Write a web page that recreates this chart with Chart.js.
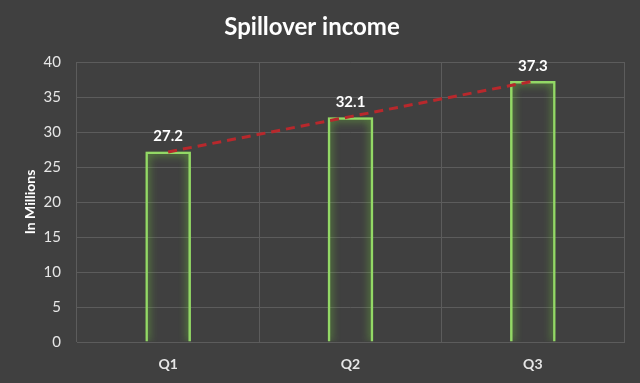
<!DOCTYPE html>
<html>
<head>
<meta charset="utf-8">
<script src="https://cdn.jsdelivr.net/npm/chart.js@4/dist/chart.umd.min.js"></script>
<style>
html,body{margin:0;padding:0;background:#404040;}
#wrap{width:640px;height:383px;}
</style>
</head>
<body>
<div id="wrap"><canvas id="c" width="640" height="383"></canvas></div>
<script>
const categories = ["Q1", "Q2", "Q3"];
const incomeValues = [27.2, 32.1, 37.3];
const trendValues = [27.15, 32.2, 37.25];
const yTicks = [0, 5, 10, 15, 20, 25, 30, 35, 40];

const FONT = "Lato, 'Open Sans', sans-serif";

const glowPlugin = {
  id: 'glow',
  beforeDatasetDraw(chart, args) {
    const ctx = chart.ctx;
    ctx.save();
    if (args.index === 0) {
      ctx.shadowColor = 'rgba(120,215,60,1)';
      ctx.shadowBlur = 8;
    }
  },
  afterDatasetDraw(chart) {
    chart.ctx.restore();
  }
};

const labelPlugin = {
  id: 'barLabels',
  afterDatasetsDraw(chart) {
    const ctx = chart.ctx;
    const meta = chart.getDatasetMeta(0);
    ctx.save();
    ctx.fillStyle = '#ffffff';
    ctx.font = "bold 15px " + FONT;
    ctx.textAlign = 'center';
    ctx.textBaseline = 'middle';
    meta.data.forEach((bar, i) => {
      ctx.fillText(incomeValues[i].toFixed(1), bar.x, bar.y - 15);
    });
    ctx.restore();
  }
};

new Chart(document.getElementById('c'), {
  type: 'bar',
  data: {
    labels: categories,
    datasets: [
      {
        type: 'bar',
        data: incomeValues,
        backgroundColor: 'rgba(0,0,0,0)',
        borderColor: '#93d866',
        borderWidth: 2.5,
        barPercentage: 0.5,
        categoryPercentage: 0.5,
        order: 2
      },
      {
        type: 'line',
        data: trendValues,
        borderColor: '#b8282c',
        borderWidth: 3,
        borderDash: [9, 6],
        pointRadius: 0,
        fill: false,
        tension: 0,
        order: 1
      }
    ]
  },
  options: {
    responsive: false,
    animation: false,
    layout: { padding: { left: 0, right: 16, top: 0, bottom: 0 } },
    plugins: {
      legend: { display: false },
      tooltip: { enabled: false },
      title: {
        display: true,
        text: 'Spillover income',
        color: '#ffffff',
        font: { family: FONT, size: 24, weight: 'bold', lineHeight: 1.2 },
        padding: { top: 13, bottom: 20.2 }
      }
    },
    scales: {
      x: {
        grid: { color: '#5c5c5c', lineWidth: 1, offset: true, drawTicks: false },
        border: { color: '#5c5c5c' },
        ticks: { color: '#e6e6e6', font: { family: FONT, size: 14, weight: 'bold' }, padding: 14 },
        afterFit(scale) { scale.height = 41; }
      },
      y: {
        min: 0,
        max: 40,
        grid: { color: '#5c5c5c', lineWidth: 1, drawTicks: false },
        border: { display: false },
        afterBuildTicks(scale) { scale.ticks = yTicks.map(v => ({ value: v })); },
        ticks: { color: '#e6e6e6', font: { family: FONT, size: 15 }, padding: 16 },
        title: {
          display: true,
          text: 'In Millions',
          color: '#ffffff',
          font: { family: FONT, size: 14, weight: 'bold' },
          padding: { top: 22, bottom: 4 }
        },
        afterFit(scale) { scale.width = 77; }
      }
    }
  },
  plugins: [glowPlugin, labelPlugin]
});
</script>
</body>
</html>
